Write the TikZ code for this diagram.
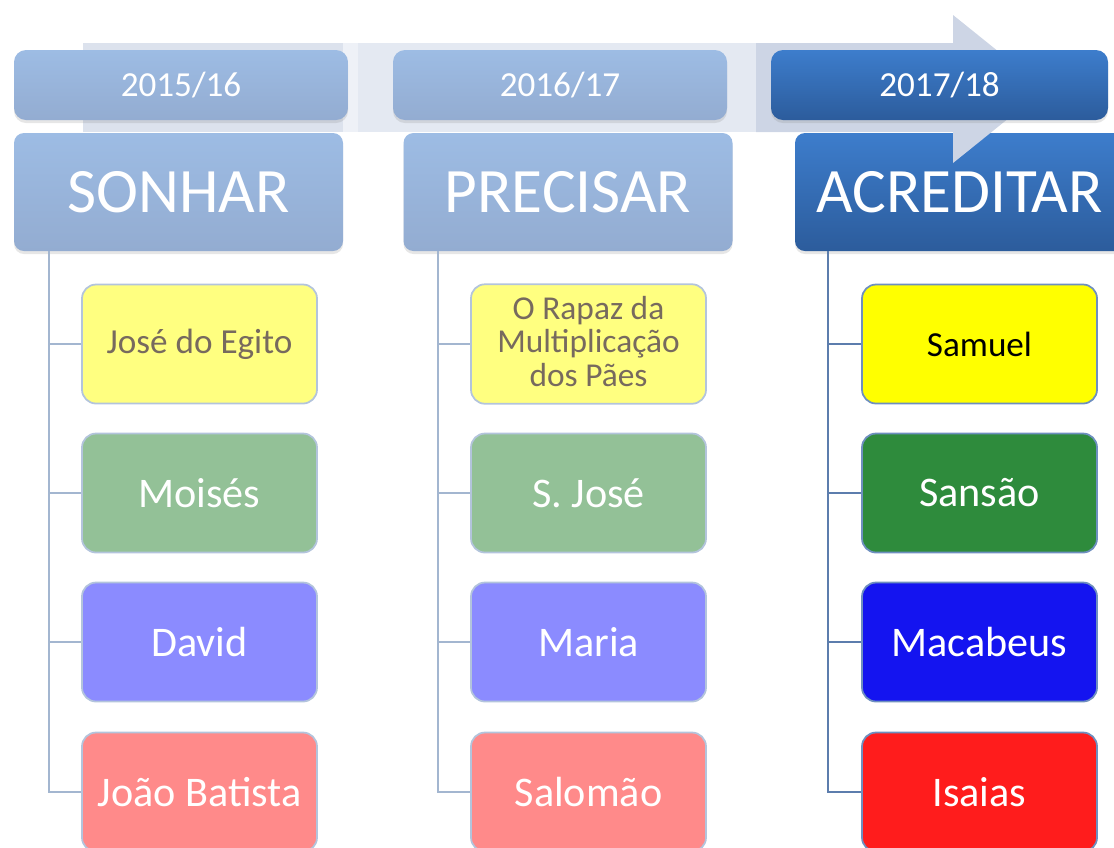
\documentclass[tikz,border=0pt]{standalone}
\usepackage{fontspec}
\setmainfont{Carlito}
\usepackage{xcolor}
\usetikzlibrary{shadows}

\definecolor{bandleft}{HTML}{DCE2ED}
\definecolor{bandstrip}{HTML}{EEF1F7}
\definecolor{bandmid}{HTML}{E4E9F2}
\definecolor{bandright}{HTML}{CDD5E5}
\definecolor{lighttop}{HTML}{9DBCE4}
\definecolor{lightbot}{HTML}{93ACD1}
\definecolor{darktop}{HTML}{3D7DCC}
\definecolor{darkbot}{HTML}{2C5C9C}
\definecolor{paleyellow}{HTML}{FFFF80}
\definecolor{palegreen}{HTML}{93C197}
\definecolor{paleblue}{HTML}{8B8BFF}
\definecolor{palered}{HTML}{FF8A8A}
\definecolor{fullyellow}{HTML}{FFFF00}
\definecolor{fullgreen}{HTML}{2E8B3C}
\definecolor{fullblue}{HTML}{1414F0}
\definecolor{fullred}{HTML}{FF1C1C}
\definecolor{paleedge}{HTML}{B3C4DC}
\definecolor{darkedge}{HTML}{6E8FBF}
\definecolor{paleline}{HTML}{A3B6D0}
\definecolor{darkline}{HTML}{5C7DAD}
\definecolor{yellowtext}{HTML}{776A5E}

\begin{document}
\begin{tikzpicture}[x=0.1mm,y=-0.1mm,
  yearbox/.style={rounded corners=1.2mm, minimum height=7mm,
    drop shadow={opacity=0.2, shadow xshift=0mm, shadow yshift=-0.3mm},
    text=white, font=\fontsize{10}{12}\selectfont},
  themebox/.style={rounded corners=1mm, minimum width=32.9mm, minimum height=11.8mm,
    drop shadow={opacity=0.2, shadow xshift=0mm, shadow yshift=-0.3mm},
    text=white, font=\fontsize{18}{20}\selectfont},
  light/.style={top color=lighttop, bottom color=lightbot},
  dark/.style={top color=darktop, bottom color=darkbot},
  namebox/.style={draw=paleedge, line width=0.5pt, rounded corners=1.4mm,
    minimum width=23.5mm, minimum height=11.9mm, align=center,
    text=white, font=\fontsize{12}{14}\selectfont},
  strong/.style={draw=darkedge},
  small/.style={text=yellowtext, font=\fontsize{10}{12}\selectfont},
  trunk/.style={paleline, line width=0.6pt},
  darktrunk/.style={darkline, line width=0.6pt}]

\useasboundingbox (0,0) rectangle (1114,847);
\clip (0,0) rectangle (1114,847);

% themes
\node[themebox, light] (s1) at (178.5,192) {SONHAR};
\node[themebox, light] (s2) at (568,192) {PRECISAR};
\node[themebox, dark] (s3) at (959.5,192) {ACREDITAR};

% arrow behind the years
\fill[bandleft] (83,43) rectangle (343,132);
\fill[bandstrip] (343,43) rectangle (358,132);
\fill[bandmid] (358,43) rectangle (756,132);
\fill[bandright] (756,43) -- (953,43) -- (953,15) -- (1045,89) -- (953,163)
  -- (953,132) -- (756,132) -- cycle;

% years
\node[yearbox, light, minimum width=33.4mm] (y1) at (181,85) {2015/16};
\node[yearbox, light, minimum width=33.4mm] (y2) at (560,85) {2016/17};
\node[yearbox, dark, minimum width=33.7mm] (y3) at (939.5,85) {2017/18};

% first year
\node[namebox, fill=paleyellow, small] (c11) at (199.5,344) {José do Egito};
\node[namebox, fill=palegreen] (c12) at (199.5,493) {Moisés};
\node[namebox, fill=paleblue] (c13) at (199.5,642) {David};
\node[namebox, fill=palered] (c14) at (199.5,792) {João Batista};

% second year
\node[namebox, fill=paleyellow, small, font=\fontsize{9.5}{9.6}\selectfont]
  (c21) at (588.5,344) {O Rapaz da\\Multiplicação\\dos Pães\vphantom{p}};
\node[namebox, fill=palegreen] (c22) at (588.5,493) {S. José};
\node[namebox, fill=paleblue] (c23) at (588.5,642) {Maria};
\node[namebox, fill=palered] (c24) at (588.5,792) {Salomão};

% third year
\node[namebox, strong, fill=fullyellow, text=black, font=\fontsize{10}{12}\selectfont]
  (c31) at (979.5,344) {Samuel};
\node[namebox, strong, fill=fullgreen] (c32) at (979.5,493) {Sansão};
\node[namebox, strong, fill=fullblue] (c33) at (979.5,642) {Macabeus};
\node[namebox, strong, fill=fullred] (c34) at (979.5,792) {Isaias};

\coordinate (t1) at (49,251);
\coordinate (t2) at (438,251);
\coordinate (t3) at (828,251);

\draw[trunk] (t1) |- (c14.west);
\draw[trunk] (t2) |- (c24.west);
\draw[darktrunk] (t3) |- (c34.west);
\foreach \i in {1,2,3} {
  \draw[trunk] (t1 |- c1\i.west) -- (c1\i.west);
  \draw[trunk] (t2 |- c2\i.west) -- (c2\i.west);
  \draw[darktrunk] (t3 |- c3\i.west) -- (c3\i.west);
}
\end{tikzpicture}
\end{document}
